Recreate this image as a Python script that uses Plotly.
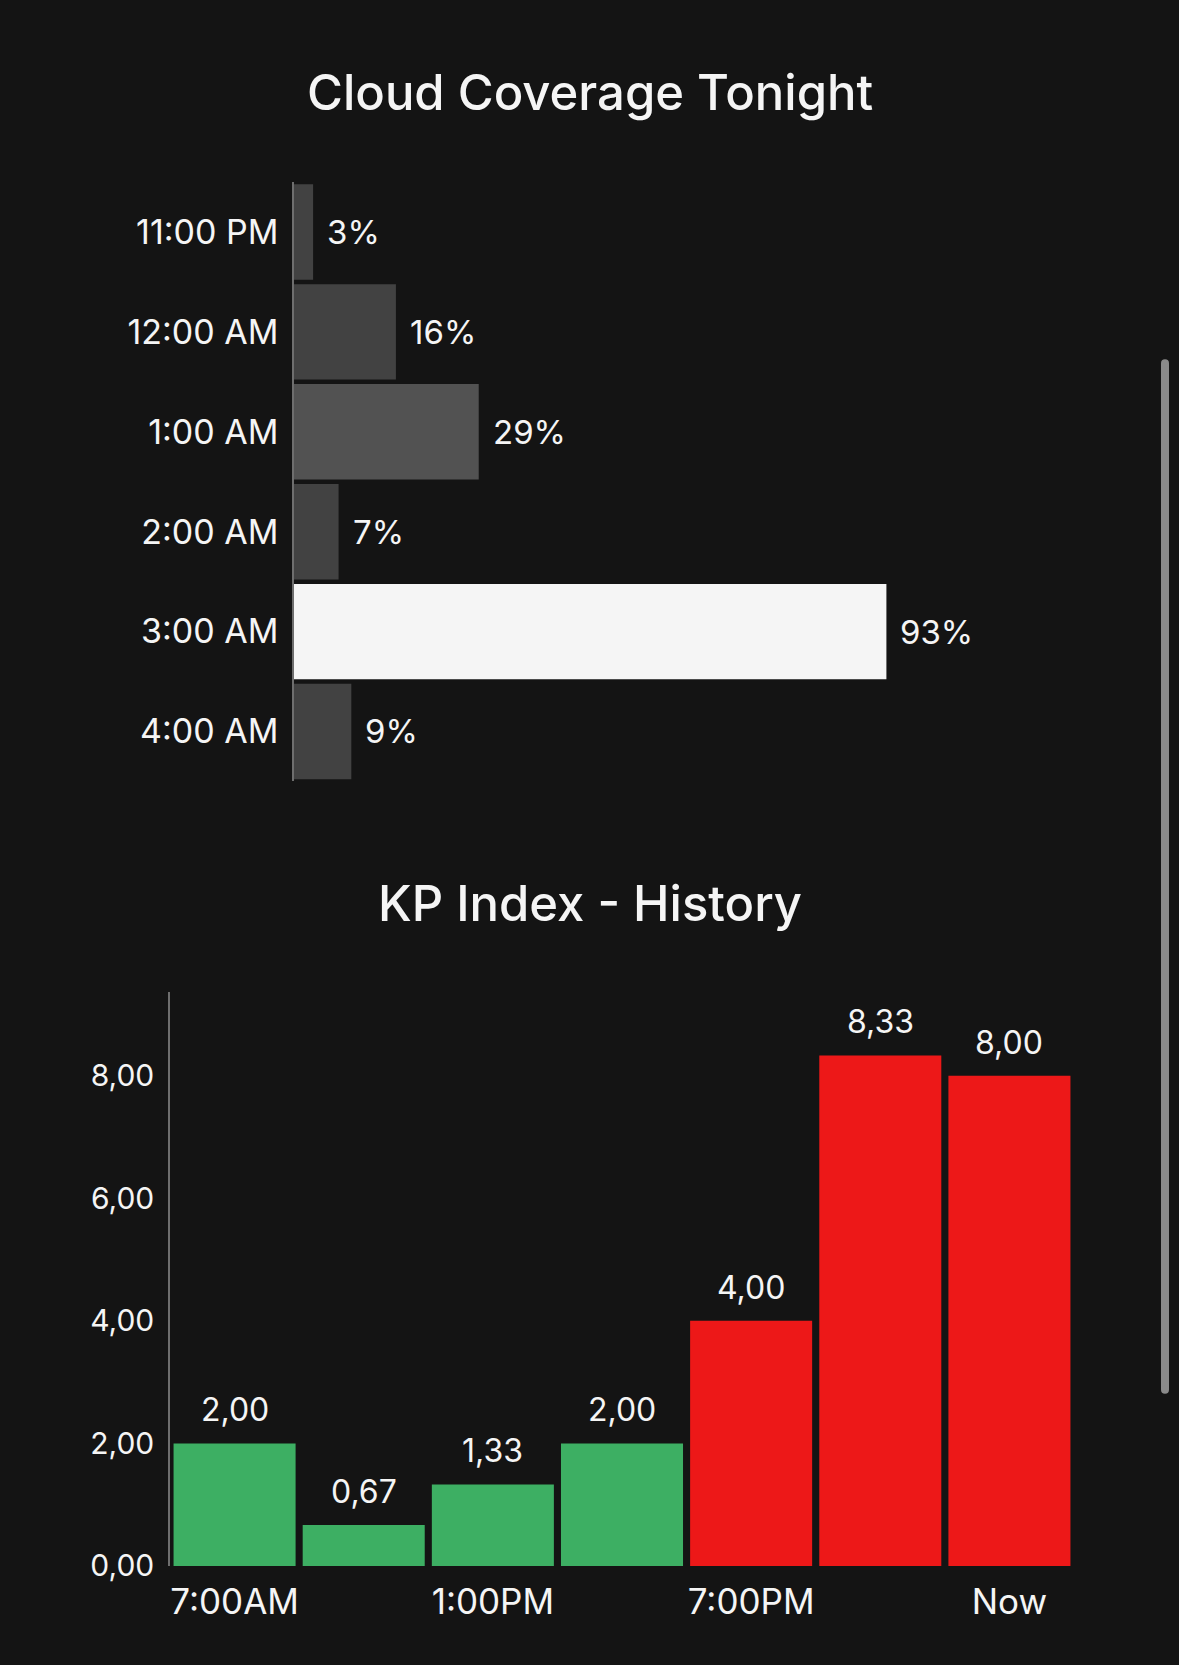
import plotly.graph_objects as go

# ---- data ----
cloud_hours = ["11:00 PM", "12:00 AM", "1:00 AM", "2:00 AM", "3:00 AM", "4:00 AM"]
cloud_pct = [3, 16, 29, 7, 93, 9]
cloud_colors = ["#424242", "#424242", "#525252", "#424242", "#F5F5F5", "#424242"]

kp_slots = ["7:00AM", "10:00AM", "1:00PM", "4:00PM", "7:00PM", "10:00PM", "Now"]
kp_values = [2.00, 0.67, 1.33, 2.00, 4.00, 8.33, 8.00]
kp_colors = ["#3DAF63", "#3DAF63", "#3DAF63", "#3DAF63", "#ED1818", "#ED1818", "#ED1818"]
kp_tick_labels = ["7:00AM", "", "1:00PM", "", "7:00PM", "", "Now"]
kp_y_ticks = [0, 2, 4, 6, 8]

BG = "#141414"
TXT = "#F5F5F5"
FONT = "Inter"
W, H = 1179, 1665


def fy(y_px):
    # page pixel (from top) -> paper fraction, with small vertical calibration
    return 1 - ((y_px - 2.1) / 0.9885) / H


fig = go.Figure()

fig.add_trace(go.Bar(
    x=cloud_pct, y=cloud_hours, orientation="h",
    marker=dict(color=cloud_colors, line=dict(width=0)),
    width=0.955, xaxis="x", yaxis="y", hoverinfo="skip", showlegend=False,
))

fig.add_trace(go.Bar(
    x=kp_slots, y=kp_values,
    marker=dict(color=kp_colors, line=dict(width=0)),
    width=0.945, xaxis="x2", yaxis="y2", hoverinfo="skip", showlegend=False,
))

annotations = []
for h, p in zip(cloud_hours, cloud_pct):
    annotations.append(dict(
        x=p, y=h, xref="x", yref="y", text=f"{p}%", showarrow=False,
        xanchor="left", yanchor="middle", xshift=12,
        font=dict(family=FONT, size=33, color=TXT),
    ))
for s, v in zip(kp_slots, kp_values):
    annotations.append(dict(
        x=s, y=v, xref="x2", yref="y2", text=f"{v:.2f}".replace(".", ","),
        showarrow=False, xanchor="center", yanchor="bottom", yshift=12,
        font=dict(family=FONT, size=32, color=TXT),
    ))
annotations.append(dict(
    x=0.5, y=fy(95), xref="paper", yref="paper", text="Cloud Coverage Tonight",
    showarrow=False, xanchor="center", yanchor="middle",
    font=dict(family=FONT, size=49, color=TXT, weight=500),
))
annotations.append(dict(
    x=0.5, y=fy(905), xref="paper", yref="paper", text="KP Index - History",
    showarrow=False, xanchor="center", yanchor="middle",
    font=dict(family=FONT, size=49, color=TXT, weight=500),
))

# scrollbar decoration
SB = "#8A8A8A"
shapes = [
    dict(type="rect", xref="paper", yref="paper",
         x0=1161 / W, x1=1169 / W, y0=fy(1391), y1=fy(365),
         fillcolor=SB, line=dict(width=0), layer="above"),
    dict(type="circle", xref="paper", yref="paper",
         x0=1161 / W, x1=1169 / W, y0=fy(369), y1=fy(361),
         fillcolor=SB, line=dict(width=0), layer="above"),
    dict(type="circle", xref="paper", yref="paper",
         x0=1161 / W, x1=1169 / W, y0=fy(1395), y1=fy(1387),
         fillcolor=SB, line=dict(width=0), layer="above"),
]

fig.update_layout(
    width=W, height=H,
    margin=dict(l=0, r=0, t=0, b=0),
    paper_bgcolor=BG, plot_bgcolor=BG,
    font=dict(family=FONT, color=TXT),
    annotations=annotations, shapes=shapes,
    xaxis=dict(domain=[294 / W, 931 / W], range=[0, 100], showgrid=False,
               zeroline=False, showticklabels=False, showline=False, fixedrange=True),
    yaxis=dict(domain=[fy(783), fy(184)], autorange="reversed",
               showgrid=False, zeroline=False, showline=True, linecolor="#6E6E6E",
               linewidth=1.5, ticks="", ticklabelstandoff=7,
               tickfont=dict(family=FONT, size=34, color=TXT), anchor="x"),
    xaxis2=dict(domain=[170 / W, 1074 / W], showgrid=False, zeroline=False,
                showline=False, ticks="", tickmode="array", tickvals=kp_slots,
                ticktext=kp_tick_labels, ticklabelstandoff=12,
                tickfont=dict(family=FONT, size=35, color=TXT), anchor="y2"),
    yaxis2=dict(domain=[fy(1567), fy(993)], range=[0, max(kp_values) * 1.125],
                showgrid=False, zeroline=False, showline=True, linecolor="#6E6E6E",
                linewidth=1.5, ticks="", tickmode="array", tickvals=kp_y_ticks,
                ticktext=[f"{t:.2f}".replace(".", ",") for t in kp_y_ticks],
                ticklabelstandoff=8,
                tickfont=dict(family=FONT, size=30, color=TXT), anchor="x2"),
)

fig.write_html("out.html")
